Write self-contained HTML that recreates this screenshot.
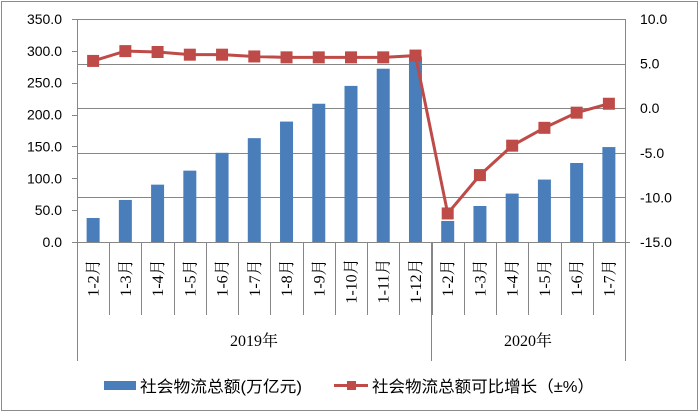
<!DOCTYPE html>
<html><head><meta charset="utf-8"><style>
html,body{margin:0;padding:0;background:#fff;}
svg{display:block;}
</style></head><body>
<svg width="699" height="412" viewBox="0 0 699 412" xmlns="http://www.w3.org/2000/svg">
<rect x="1.5" y="1.5" width="696" height="409" fill="#fff" stroke="#8c8c8c" stroke-width="1"/>
<g stroke="#868686" stroke-width="1">
<line x1="77" y1="19.5" x2="625" y2="19.5"/>
<line x1="77" y1="64.5" x2="625" y2="64.5"/>
<line x1="77" y1="108.5" x2="625" y2="108.5"/>
<line x1="77" y1="153.5" x2="625" y2="153.5"/>
<line x1="77" y1="197.5" x2="625" y2="197.5"/>
<line x1="72" y1="242.5" x2="630" y2="242.5"/>
<line x1="77.5" y1="19" x2="77.5" y2="361"/>
<line x1="625.5" y1="19" x2="625.5" y2="361"/>
<line x1="431.5" y1="242" x2="431.5" y2="361"/>
</g>
<g stroke="#868686" stroke-width="1" id="ticks"></g>
<g id="bars" fill="#4a7ebb"></g>
<g id="ltxt" font-family="Liberation Sans, sans-serif" font-size="14" fill="#000" text-anchor="end"></g>
<g id="rtxt" font-family="Liberation Sans, sans-serif" font-size="14" fill="#000" text-anchor="start"></g>
<g id="cat" font-family="Liberation Serif, 'Noto Serif CJK SC', serif" font-size="16" fill="#000" text-anchor="middle"></g>
<g id="line"></g>
<text x="254" y="346" font-family="Liberation Serif, 'Noto Serif CJK SC', serif" font-size="16" text-anchor="middle">2019年</text>
<text x="528" y="346" font-family="Liberation Serif, 'Noto Serif CJK SC', serif" font-size="16" text-anchor="middle">2020年</text>
<rect x="104" y="381" width="32" height="9" fill="#4a7ebb"/>
<text x="140" y="392" font-family="Liberation Sans, 'Noto Sans CJK SC', sans-serif" font-size="16" textLength="162" lengthAdjust="spacingAndGlyphs">社会物流总额(万亿元)</text>
<line x1="334" y1="385.5" x2="368" y2="385.5" stroke="#be4b48" stroke-width="3"/>
<rect x="347" y="381" width="9" height="9" fill="#be4b48"/>
<text x="372" y="392" font-family="Liberation Sans, 'Noto Sans CJK SC', sans-serif" font-size="16" textLength="222" lengthAdjust="spacingAndGlyphs">社会物流总额可比增长（±%）</text>
</svg>
<script>
const ns="http://www.w3.org/2000/svg";
function el(p,t,a,txt){const e=document.createElementNS(ns,t);for(const k in a)e.setAttribute(k,a[k]);if(txt!==undefined)e.textContent=txt;document.getElementById(p).appendChild(e);return e;}
const L=77,W=548/17,Y0=242,H=223;
const bars=[37.7,66,90,112,140,163,189,217,245,272,291,33,56.5,76,98,124,149];
const line=[5.3,6.4,6.3,6.0,6.0,5.8,5.7,5.7,5.7,5.7,5.9,-11.8,-7.5,-4.2,-2.2,-0.5,0.5];
const labs=["1-2月","1-3月","1-4月","1-5月","1-6月","1-7月","1-8月","1-9月","1-10月","1-11月","1-12月","1-2月","1-3月","1-4月","1-5月","1-6月","1-7月"];
for(let i=0;i<=17;i++){const x=Math.round(L+i*W)+0.5;el("ticks","line",{x1:x,y1:242,x2:x,y2:315});}
for(let v=0;v<=350;v+=50){const y=Y0-v/350*H;el("ticks","line",{x1:72,y1:Math.round(y)+0.5,x2:77,y2:Math.round(y)+0.5});el("ltxt","text",{x:62,y:y+5},v.toFixed(1));}
for(let v=-15;v<=10;v+=5){const y=Y0-(v+15)/25*H;el("rtxt","text",{x:640,y:y+5},v.toFixed(1));}
let pts=[];
bars.forEach((b,i)=>{const cx=L+(i+0.5)*W;const h=b/350*H;el("bars","rect",{x:cx-6.5,y:Y0-h,width:13,height:h});
 const y=Y0-(line[i]+15)/25*H;pts.push([cx,y]);
 const cy=labs[i].length>4?281:278;
 el("cat","text",{transform:`translate(${cx+5.5},${cy}) rotate(-90)`},labs[i]);});
el("line","polyline",{points:pts.map(p=>p.join(",")).join(" "),fill:"none",stroke:"#be4b48","stroke-width":3});
pts.forEach(p=>el("line","rect",{x:p[0]-6,y:p[1]-6,width:12,height:12,fill:"#be4b48"}));
</script>
</body></html>
